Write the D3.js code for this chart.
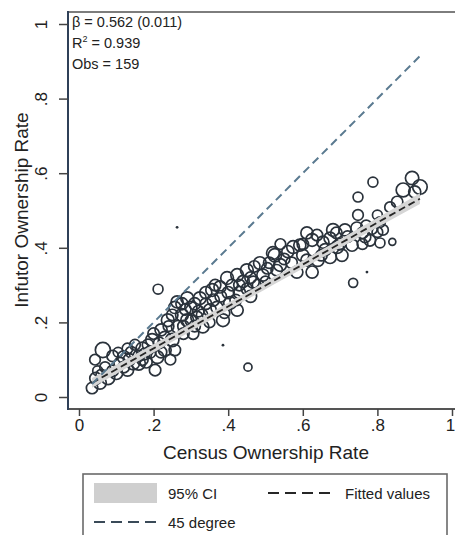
<!DOCTYPE html>
<html>
<head>
<meta charset="utf-8">
<script src="https://cdn.jsdelivr.net/npm/d3@7"></script>
<style>
  html, body { margin: 0; padding: 0; background: #fff; }
  svg { display: block; font-family: "Liberation Sans", Arial, sans-serif; }
</style>
</head>
<body>
<svg id="chart" width="455" height="535"></svg>
<script>
// Census vs. Infutor ownership rates by area (x = census, y = infutor, w = population weight)
const censusRate = [
  0.035,0.045,0.056,0.043,0.064,0.078,0.09,0.10,0.11,0.12,
  0.13,0.14,0.145,0.16,0.17,0.18,0.185,0.196,0.204,0.21,
  0.22,0.23,0.238,0.25,0.257,0.257,0.265,0.276,0.276,0.212,
  0.263,0.09,0.07,0.12,0.15,0.19,0.20,0.23,0.24,0.16,
  0.105,0.05,0.135,0.175,0.215,0.245,0.263,0.29,0.30,0.324,
  0.34,0.357,0.378,0.397,0.41,0.424,0.44,0.45,0.467,0.47,
  0.485,0.493,0.51,0.525,0.424,0.386,0.351,0.316,0.29,0.28,
  0.332,0.405,0.36,0.25,0.306,0.285,0.31,0.33,0.37,0.38,
  0.39,0.43,0.45,0.46,0.48,0.42,0.35,0.40,0.386,0.453,
  0.30,0.34,0.365,0.32,0.52,0.539,0.55,0.574,0.592,0.625,
  0.654,0.681,0.713,0.745,0.767,0.732,0.692,0.705,0.673,0.64,
  0.611,0.584,0.625,0.611,0.638,0.673,0.78,0.748,0.748,0.807,
  0.80,0.807,0.735,0.772,0.84,0.788,0.893,0.869,0.914,0.90,
  0.853,0.834,0.815,0.80,0.77,0.76,0.72,0.70,0.66,0.60,
  0.57,0.53,0.56,0.505,0.60,0.69,0.65,0.76,0.785,0.54,
  0.46,0.50,0.43,0.28,0.31,0.22,0.17,0.06,0.13
];
const infutorRate = [
  0.024,0.05,0.038,0.100,0.126,0.051,0.07,0.064,0.09,0.107,
  0.072,0.12,0.09,0.09,0.13,0.094,0.14,0.153,0.072,0.107,
  0.18,0.126,0.206,0.153,0.24,0.126,0.188,0.25,0.22,0.289,
  0.455,0.11,0.08,0.08,0.14,0.12,0.17,0.16,0.19,0.11,
  0.12,0.07,0.10,0.115,0.145,0.10,0.255,0.265,0.24,0.265,
  0.28,0.287,0.295,0.319,0.30,0.327,0.31,0.34,0.308,0.35,
  0.359,0.327,0.36,0.38,0.233,0.206,0.233,0.214,0.206,0.17,
  0.188,0.252,0.26,0.22,0.17,0.235,0.25,0.22,0.24,0.27,
  0.225,0.28,0.29,0.27,0.30,0.26,0.20,0.28,0.139,0.08,
  0.205,0.25,0.30,0.23,0.386,0.354,0.37,0.402,0.407,0.421,
  0.415,0.448,0.448,0.453,0.429,0.407,0.402,0.38,0.375,0.367,
  0.367,0.335,0.335,0.44,0.434,0.426,0.42,0.536,0.488,0.469,
  0.442,0.413,0.306,0.335,0.416,0.576,0.587,0.555,0.563,0.55,
  0.523,0.509,0.448,0.488,0.46,0.44,0.43,0.41,0.395,0.38,
  0.36,0.34,0.39,0.345,0.41,0.44,0.38,0.41,0.45,0.41,
  0.32,0.31,0.30,0.19,0.19,0.12,0.10,0.06,0.13
];
const popWeight = [
  40,45,50,35,70,55,40,50,45,50,
  45,40,50,55,50,45,40,50,40,50,
  45,50,50,55,45,40,50,45,50,30,
  1,40,35,40,35,45,40,45,35,40,
  30,30,45,40,40,35,45,50,45,50,
  45,50,45,50,40,50,45,50,45,40,
  50,45,40,55,45,50,50,45,50,40,
  45,50,45,40,40,40,45,40,45,40,
  35,45,40,45,40,40,35,45,1,20,
  40,40,40,40,50,50,40,50,45,50,
  45,50,45,45,40,45,50,45,50,50,
  45,45,45,45,40,45,40,30,35,35,
  35,30,25,1,15,30,55,60,65,45,
  40,35,35,30,35,40,40,40,45,45,
  40,40,45,40,40,40,40,35,35,35,
  40,35,40,40,40,40,40,35,35
];

// Regression summary
const beta = 0.562, betaSE = 0.011, rSquared = 0.939, intercept = 0.018;
const interceptSEAtMean = 0.005;
const xTicks = [0, 0.2, 0.4, 0.6, 0.8, 1];
const yTicks = [0, 0.2, 0.4, 0.6, 0.8, 1];
const tickLabel = v => v === 0 ? "0" : v === 1 ? "1" : String(v).replace(/^0/, "");

const points = censusRate.map((c, i) => ({ x: c, y: infutorRate[i], w: popWeight[i] }));

const svg = d3.select("#chart");
const x = d3.scaleLinear().domain([0, 1]).range([79, 452]);
const y = d3.scaleLinear().domain([0, 1]).range([397, 24]);
const r = d3.scaleSqrt().domain([0, 100]).range([0, 9]);

const frame = { left: 68, top: 12, bottom: 409, right: 466 };

svg.append("rect").attr("x", 0).attr("y", 0).attr("width", 455).attr("height", 535).attr("fill", "#fff");

// scatter points (hollow, sized by weight)
const ink = "#2a323b";
svg.append("g").selectAll("circle").data(points).join("circle")
  .attr("cx", d => x(d.x)).attr("cy", d => y(d.y))
  .attr("r", d => Math.max(r(d.w), 1.4))
  .attr("fill", d => d.w <= 2 ? ink : "none")
  .attr("stroke", ink)
  .attr("stroke-width", d => d.w <= 2 ? 0 : 1.7);

// fitted line with 95% CI
const xMean = d3.mean(censusRate);
const [xMin, xMax] = d3.extent(censusRate);
const fitX = d3.range(0, 41).map(i => xMin + (xMax - xMin) * i / 40);
const half = v => 1.975 * Math.sqrt(interceptSEAtMean ** 2 + ((v - xMean) * betaSE) ** 2);
const fit = v => intercept + beta * v;

svg.append("path").datum(fitX)
  .attr("d", d3.area().x(v => x(v)).y0(v => y(fit(v) - half(v))).y1(v => y(fit(v) + half(v))))
  .attr("fill", "#d6d6d6");

svg.append("path").datum([xMin, xMax])
  .attr("d", d3.line().x(v => x(v)).y(v => y(fit(v))))
  .attr("stroke", "#262626").attr("stroke-width", 1.8).attr("fill", "none")
  .attr("stroke-dasharray", "7,4");

// 45 degree line
svg.append("path").datum([xMin, xMax])
  .attr("d", d3.line().x(v => x(v)).y(v => y(v)))
  .attr("stroke", "#5a7a90").attr("stroke-width", 2).attr("fill", "none")
  .attr("stroke-dasharray", "8,5");

// frame
svg.append("line").attr("x1", frame.left).attr("x2", frame.right).attr("y1", frame.top).attr("y2", frame.top)
  .attr("stroke", "#7d7d7d").attr("stroke-width", 2);
svg.append("line").attr("x1", frame.left).attr("x2", frame.right).attr("y1", frame.bottom).attr("y2", frame.bottom)
  .attr("stroke", "#555").attr("stroke-width", 2);
svg.append("line").attr("x1", frame.left).attr("x2", frame.left).attr("y1", frame.top - 1).attr("y2", frame.bottom + 1)
  .attr("stroke", "#2f4058").attr("stroke-width", 2);

// y axis
const yAxis = svg.append("g").attr("transform", `translate(${frame.left},0)`)
  .call(d3.axisLeft(y).tickValues(yTicks).tickSize(9).tickFormat(tickLabel));
yAxis.select(".domain").remove();
yAxis.selectAll(".tick line").attr("stroke", "#444").attr("stroke-width", 1.5);
yAxis.selectAll(".tick text")
  .attr("x", 0).attr("dy", null)
  .attr("transform", "translate(-21,0) rotate(-90)")
  .attr("text-anchor", "middle")
  .attr("fill", "#222")
  .style("font-size", "17px")
  .style("font-family", "'Liberation Sans', Arial, sans-serif");

// x axis
const xAxis = svg.append("g").attr("transform", `translate(0,${frame.bottom})`)
  .call(d3.axisBottom(x).tickValues(xTicks).tickSize(7).tickFormat(tickLabel));
xAxis.select(".domain").remove();
xAxis.selectAll(".tick line").attr("stroke", "#444").attr("stroke-width", 1.5);
xAxis.selectAll(".tick text")
  .attr("y", 10)
  .attr("dx", d => d === 1 ? -2 : 0)
  .attr("fill", "#222")
  .style("font-size", "17px")
  .style("font-family", "'Liberation Sans', Arial, sans-serif");

// axis titles
svg.append("text").attr("x", 266).attr("y", 459).attr("text-anchor", "middle")
  .attr("fill", "#222").style("font-size", "19px").text("Census Ownership Rate");
svg.append("text").attr("transform", "translate(28,210) rotate(-90)").attr("text-anchor", "middle")
  .attr("fill", "#222").style("font-size", "19px").text("Infutor Ownership Rate");

// regression annotation
const note = svg.append("g").attr("fill", "#222").style("font-size", "14.5px");
note.append("text").attr("x", 72).attr("y", 27).text(`β = ${beta.toFixed(3)} (${betaSE.toFixed(3)})`);
const r2 = note.append("text").attr("x", 72).attr("y", 48);
r2.append("tspan").text("R");
r2.append("tspan").attr("dy", -6).style("font-size", "9px").text("2");
r2.append("tspan").attr("dy", 6).text(` = ${rSquared.toFixed(3)}`);
note.append("text").attr("x", 72).attr("y", 69).text(`Obs = ${points.length}`);

// legend
const lg = svg.append("g");
lg.append("rect").attr("x", 83).attr("y", 474).attr("width", 364).attr("height", 90)
  .attr("fill", "#fff").attr("stroke", "#6a6a6a").attr("stroke-width", 1.6);
lg.append("rect").attr("x", 94).attr("y", 483).attr("width", 63).attr("height", 20).attr("fill", "#cfcfcf");
lg.append("text").attr("x", 168).attr("y", 499).attr("fill", "#222").style("font-size", "15px").text("95% CI");
lg.append("line").attr("x1", 268).attr("x2", 333).attr("y1", 493).attr("y2", 493)
  .attr("stroke", "#262626").attr("stroke-width", 1.8).attr("stroke-dasharray", "11,6");
lg.append("text").attr("x", 345).attr("y", 499).attr("fill", "#222").style("font-size", "15px").text("Fitted values");
lg.append("line").attr("x1", 94).attr("x2", 157).attr("y1", 522).attr("y2", 522)
  .attr("stroke", "#3a4a58").attr("stroke-width", 1.8).attr("stroke-dasharray", "11,6");
lg.append("text").attr("x", 168).attr("y", 528).attr("fill", "#222").style("font-size", "15px").text("45 degree");
</script>
</body>
</html>
